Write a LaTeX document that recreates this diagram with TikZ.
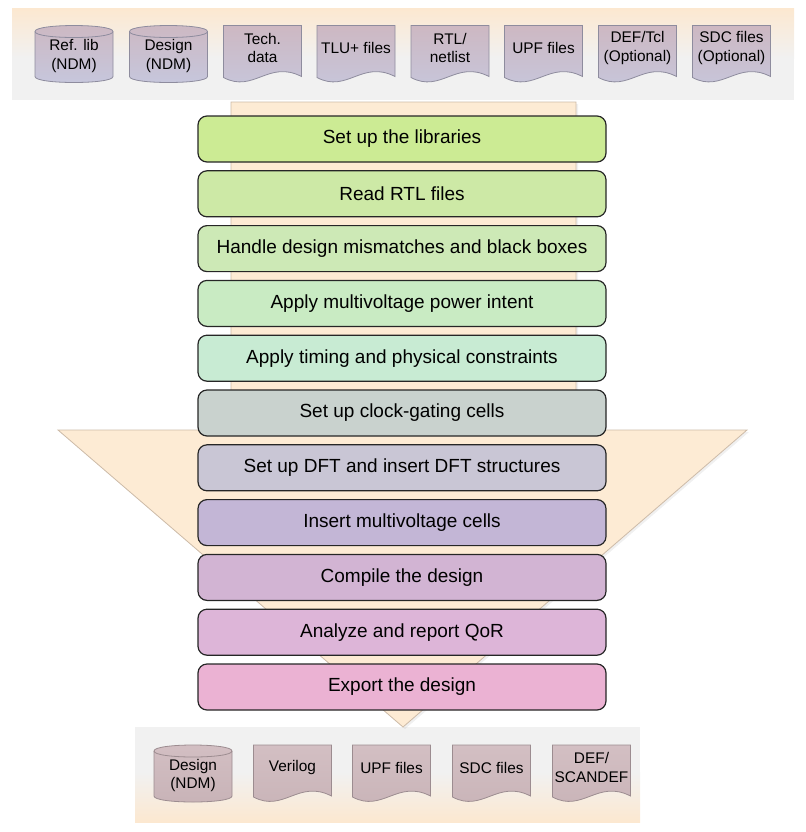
\documentclass[tikz,border=0pt]{standalone}
\usepackage{fontspec}
\setmainfont{Liberation Sans}
\usetikzlibrary{shadows}
\definecolor{bandpeach}{HTML}{FCE8D0}
\definecolor{bandgray}{HTML}{F1F1F1}
\definecolor{arrowfill}{HTML}{FDEBD4}
\definecolor{arrowline}{HTML}{CDBBA8}
\definecolor{filetop}{HTML}{CDB8C2}
\definecolor{filebot}{HTML}{C6C7DD}
\definecolor{fileedge}{HTML}{8E8C9E}
\definecolor{outtop}{HTML}{D3BFC3}
\definecolor{outbot}{HTML}{C8B3B7}
\definecolor{outedge}{HTML}{9C8C90}
\definecolor{stepA}{HTML}{CCEB94}
\definecolor{stepB}{HTML}{CDE9A6}
\definecolor{stepC}{HTML}{CDE9B6}
\definecolor{stepD}{HTML}{C9EBC3}
\definecolor{stepE}{HTML}{C8EBD3}
\definecolor{stepF}{HTML}{C9D2CE}
\definecolor{stepG}{HTML}{C9C6D5}
\definecolor{stepH}{HTML}{C3B6D6}
\definecolor{stepI}{HTML}{D2B4D3}
\definecolor{stepJ}{HTML}{DDB5D8}
\definecolor{stepK}{HTML}{EBB2D3}

% database (cylinder) file: style, name, x, y, text
\newcommand{\dbfile}[5]{%
  \begin{scope}[shift={(#3,#4)}]
    \path[#1] (-39,-22.5) -- (-39,22.5) .. controls (-39,30.5) and (39,30.5) .. (39,22.5)
      -- (39,-22.5) .. controls (39,-30.5) and (-39,-30.5) .. cycle;
    \draw[#1/edge] (-39,-22.5) .. controls (-39,-14.5) and (39,-14.5) .. (39,-22.5);
    \node[filetext] (#2) at (0,2) {#5};
  \end{scope}}

% document file with wavy bottom: style, name, x, y, text
\newcommand{\docfile}[5]{%
  \begin{scope}[shift={(#3,#4)}]
    \path[#1] (-39,-28.5) -- (39,-28.5) -- (39,22.5) .. controls (6,5.5) and (-9,39.5) .. (-39,23.5) -- cycle;
    \node[filetext] (#2) at (0,-6) {#5};
  \end{scope}}

\begin{document}
\begin{tikzpicture}[
  x=0.5pt, y=-0.5pt,
  stepbox/.style={draw=black!85, line width=0.6pt, rounded corners=4.5pt,
    minimum width=204pt, minimum height=23pt, align=center,
    font=\fontsize{9.5}{11}\selectfont},
  filetext/.style={align=center, inner sep=0pt, font=\fontsize{7.7}{9.2}\selectfont},
  infile/.style={draw=fileedge, line width=0.4pt, top color=filetop, bottom color=filebot},
  infile/edge/.style={draw=fileedge, line width=0.4pt},
  outfile/.style={draw=outedge, line width=0.4pt, top color=outtop, bottom color=outbot},
  outfile/edge/.style={draw=outedge, line width=0.4pt},
  bigarrow/.style={fill=arrowfill, draw=arrowline, line width=0.4pt,
    drop shadow={shadow xshift=1pt, shadow yshift=-1pt, opacity=0.12}}
]
\useasboundingbox (0,0) rectangle (806,832);

% input band
\fill[bandgray] (12,8) rectangle (794,100);
\shade[top color=bandpeach, bottom color=bandgray] (12,8) rectangle (794,58);

% output band
\fill[bandgray] (135,727) rectangle (640,822);
\shade[top color=bandgray, bottom color=bandpeach] (135,772) rectangle (640,822);

% flow arrow behind the steps
\path[bigarrow] (231,102) -- (576,102) -- (576,430) -- (747,430) -- (403,727)
  -- (58,430) -- (231,430) -- cycle;

% inputs
\dbfile{infile}{reflib}{74}{54}{Ref. lib\\(NDM)}
\dbfile{infile}{designin}{168.5}{54}{Design\\(NDM)}
\docfile{infile}{techdata}{262.5}{54}{Tech.\\data}
\docfile{infile}{tluplus}{356}{54}{TLU+ files}
\docfile{infile}{rtlin}{450}{54}{RTL/\\netlist}
\docfile{infile}{upfin}{543.5}{54}{UPF files}
\docfile{infile}{defin}{637.5}{54}{DEF/Tcl\\(Optional)}
\docfile{infile}{sdcin}{731.5}{54}{SDC files\\(Optional)}

% flow steps
\node[stepbox, fill=stepA] (libs) at (402,139) {Set up the libraries};
\node[stepbox, fill=stepB] (readrtl) at (402,193.8) {Read RTL files};
\node[stepbox, fill=stepC] (mismatch) at (402,248.6) {Handle design mismatches and black boxes};
\node[stepbox, fill=stepD] (mvintent) at (402,303.4) {Apply multivoltage power intent};
\node[stepbox, fill=stepE] (constr) at (402,358.2) {Apply timing and physical constraints};
\node[stepbox, fill=stepF] (clkgate) at (402,413) {Set up clock-gating cells};
\node[stepbox, fill=stepG] (dft) at (402,467.8) {Set up DFT and insert DFT structures};
\node[stepbox, fill=stepH] (mvcells) at (402,522.6) {Insert multivoltage cells};
\node[stepbox, fill=stepI] (compile) at (402,577.4) {Compile the design};
\node[stepbox, fill=stepJ] (qor) at (402,632.2) {Analyze and report QoR};
\node[stepbox, fill=stepK] (export) at (402,687) {Export the design};

% outputs
\dbfile{outfile}{designout}{193}{773.5}{Design\\(NDM)}
\docfile{outfile}{verilog}{292.5}{773.5}{Verilog}
\docfile{outfile}{upfout}{391.5}{773.5}{UPF files}
\docfile{outfile}{sdcout}{491.5}{773.5}{SDC files}
\docfile{outfile}{defout}{591.5}{773.5}{DEF/\\SCANDEF}

\end{tikzpicture}
\end{document}
